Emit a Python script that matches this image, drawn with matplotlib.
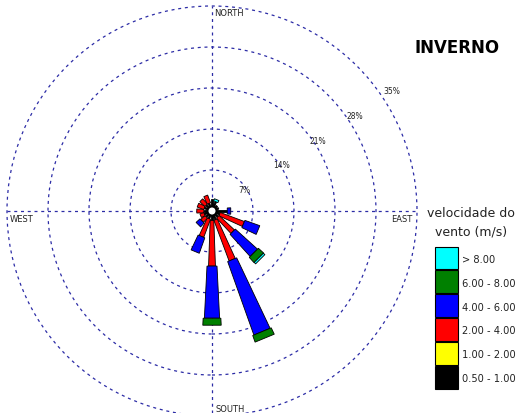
import numpy as np
import matplotlib
matplotlib.use("Agg")
import matplotlib.pyplot as plt
from matplotlib.patches import Polygon, Circle, Rectangle

# Wind frequency (%) per direction and speed class - winter season
directions = ['N', 'NNE', 'NE', 'ENE', 'E', 'ESE', 'SE', 'SSE',
              'S', 'SSW', 'SW', 'WSW', 'W', 'WNW', 'NW', 'NNW']
freq_050_100 = [2.0, 1.7, 1.2, 1.2, 2.6, 1.4, 1.4, 1.6, 1.6, 1.4, 1.4, 1.4, 1.4, 1.4, 1.4, 1.4]
freq_100_200 = [0.0] * 16
freq_200_400 = [0.0, 0.0, 0.0, 0.0, 0.0, 4.4, 3.6, 7.4, 7.8, 3.3, 1.0, 0.7, 1.2, 1.2, 1.2, 1.4]
freq_400_600 = [0.0, 0.0, 0.0, 0.0, 0.6, 2.7, 5.1, 13.3, 8.9, 2.8, 0.9, 0.0, 0.0, 0.0, 0.0, 0.0]
freq_600_800 = [0.0, 0.0, 0.0, 0.0, 0.0, 0.0, 1.2, 1.2, 1.2, 0.0, 0.0, 0.0, 0.0, 0.0, 0.0, 0.0]
freq_above_800 = [0.0, 0.4, 0.0, 0.0, 0.0, 0.0, 0.35, 0.0, 0.0, 0.0, 0.0, 0.0, 0.0, 0.0, 0.0, 0.0]

class_labels = ['0.50 - 1.00', '1.00 - 2.00', '2.00 - 4.00',
                '4.00 - 6.00', '6.00 - 8.00', '> 8.00']
class_colors = ['#000000', '#ffff00', '#ff0000', '#0000ff', '#008000', '#00ffff']
ring_values = [7, 14, 21, 28, 35]
title = 'INVERNO'

# petal width per class (pixels): base width + growth with radius
class_base_w = [1.6, 2.8, 3.0, 4.5, 7.0, 3.0]
class_slope_w = [0.0, 0.07, 0.07, 0.10, 0.10, 0.15]

W, H = 518, 414
cx, cy = 212, 414 - 212          # rose centre in pixels (from bottom-left)
ppu = 205.0 / 35.0               # pixels per percent

fig = plt.figure(figsize=(W / 100, H / 100), dpi=100)
fig.patch.set_facecolor('white')
ax = fig.add_axes([0, 0, 1, 1])
ax.set_xlim(-cx / ppu, (W - cx) / ppu)
ax.set_ylim(-cy / ppu, (H - cy) / ppu)
ax.set_aspect('auto')
ax.axis('off')

grid_color = '#2c2ca6'
dash = (0, (2.4, 3.0))
rmax = ring_values[-1]
for r in ring_values:
    ax.add_patch(Circle((0, 0), r, fill=False, edgecolor=grid_color,
                        lw=0.9, linestyle=dash, zorder=1))
ax.plot([0, 0], [-cy / ppu, rmax], color=grid_color, lw=0.9,
        linestyle=dash, zorder=1)
ax.plot([-rmax, rmax], [0, 0], color=grid_color, lw=0.9,
        linestyle=dash, zorder=1)

# ring labels
for r in ring_values:
    ax.text(0.9 * r - 0.8, 0.6 * r - 0.5, f'{r}%', fontsize=5.5,
            ha='center', va='center', color='#222222', zorder=2,
            family='DejaVu Sans')

# stacked petals
classes = [freq_050_100, freq_100_200, freq_200_400,
           freq_400_600, freq_600_800, freq_above_800]
for i, d in enumerate(directions):
    theta = np.deg2rad(i * 22.5)
    u = np.array([np.sin(theta), np.cos(theta)])
    p = np.array([np.cos(theta), -np.sin(theta)])
    r0 = 0.0
    for c, vals in enumerate(classes):
        v = vals[i]
        if v <= 0:
            continue
        r1 = r0 + v
        hw0 = (class_base_w[c] + class_slope_w[c] * r0 * ppu) / 2 / ppu
        hw1 = (class_base_w[c] + class_slope_w[c] * r1 * ppu) / 2 / ppu
        pts = [u * r0 + p * hw0, u * r1 + p * hw1,
               u * r1 - p * hw1, u * r0 - p * hw0]
        ax.add_patch(Polygon(pts, closed=True, facecolor=class_colors[c],
                             edgecolor='black', lw=0.6, zorder=3 + c))
        r0 = r1

# calm circle
ax.add_patch(Circle((0, 0), 4.5 / ppu, facecolor='white', edgecolor='black',
                    lw=1.4, zorder=20))

def px(x, y):
    return x / W, 1 - y / H

small = dict(fontsize=6.0, color='#222222', family='DejaVu Sans')
fig.text(*px(214, 14), 'NORTH', ha='left', va='center', **small)
fig.text(*px(10, 220), 'WEST', ha='left', va='center', **small)
fig.text(*px(412, 220), 'EAST', ha='right', va='center', **small)
fig.text(*px(215, 410), 'SOUTH', ha='left', va='center', **small)

fig.text(*px(457, 48), title, ha='center', va='center', fontsize=12,
         fontweight='bold', family='DejaVu Sans', color='black')

fig.text(*px(471, 214), 'velocidade do', ha='center', va='center',
         fontsize=9, family='DejaVu Sans', color='#222222')
fig.text(*px(471, 232), 'vento (m/s)', ha='center', va='center',
         fontsize=9, family='DejaVu Sans', color='#222222')

# legend boxes, highest class on top
box_x, box_w, box_h, pitch, top0 = 435, 23, 22.5, 23.9, 247.5
order = list(range(len(class_labels)))[::-1]
for k, c in enumerate(order):
    top = top0 + k * pitch
    x0, y0 = px(box_x, top + box_h)
    fig.patches.append(Rectangle((x0, y0), box_w / W, box_h / H,
                                 transform=fig.transFigure,
                                 facecolor=class_colors[c], edgecolor='black',
                                 lw=0.8))
    fig.text(*px(462, top + box_h / 2 + 1), class_labels[c], ha='left',
             va='center', fontsize=7.1, family='DejaVu Sans', color='#222222')

fig.savefig('out.png', dpi=100, facecolor='white')
